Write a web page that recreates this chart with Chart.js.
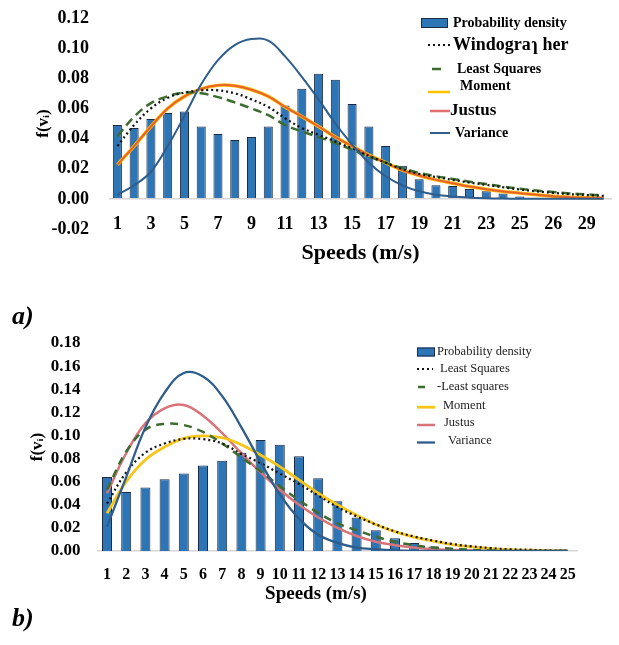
<!DOCTYPE html>
<html><head><meta charset="utf-8">
<script src="https://cdn.jsdelivr.net/npm/chart.js@4/dist/chart.umd.min.js"></script>
<style>
html,body{margin:0;padding:0;background:#fff;}
body{width:619px;height:645px;position:relative;overflow:hidden;}
canvas{position:absolute;left:0;}
#ca{top:0;}
#cb{top:325px;}
.tag{position:absolute;left:12px;font:bold italic 26px 'Liberation Serif',serif;line-height:1;color:#000;}
</style></head><body>
<canvas id="ca" width="619" height="272"></canvas>
<canvas id="cb" width="619" height="290"></canvas>
<div class="tag" style="top:303px">a)</div>
<div class="tag" style="top:605px">b)</div>
<script>
// ---------- Chart a data ----------
const catsA = ['1','2','3','4','5','6','7','8','9','10','11','12','13','14','15','16','17','18','19','20','21','22','23','24','25','25','26','28','29','30'];
const densA = [0.049,0.047,0.053,0.057,0.058,0.048,0.043,0.039,0.041,0.048,0.062,0.073,0.083,0.079,0.063,0.048,0.035,0.022,0.013,0.009,0.0085,0.0065,0.005,0.0035,0.0015,0.0005,0,0,0,0];
const windA = [0.035,0.049,0.060,0.067,0.0705,0.072,0.072,0.070,0.066,0.061,0.0535,0.047,0.0425,0.038,0.0335,0.0285,0.024,0.0197,0.0166,0.0145,0.0126,0.0108,0.0093,0.0077,0.0062,0.0050,0.0040,0.0031,0.0025,0.0020];
const lsqA  = [0.0415,0.0545,0.0635,0.068,0.0705,0.070,0.0675,0.064,0.060,0.0555,0.049,0.0447,0.041,0.037,0.0326,0.028,0.024,0.0203,0.0172,0.015,0.0132,0.0114,0.0098,0.0082,0.0067,0.0055,0.0045,0.0036,0.0029,0.0024];
const momA  = [0.0226,0.035,0.048,0.060,0.068,0.073,0.0753,0.075,0.0724,0.068,0.061,0.0547,0.048,0.041,0.035,0.029,0.024,0.019,0.0155,0.0126,0.0104,0.0082,0.0064,0.0049,0.0038,0.0027,0.0017,0.0011,0.0007,0.0005];
const jusA  = [0.0226,0.035,0.048,0.060,0.068,0.073,0.0753,0.075,0.0724,0.068,0.061,0.0547,0.048,0.041,0.035,0.029,0.024,0.019,0.0155,0.0126,0.0104,0.0082,0.0064,0.0049,0.0038,0.0027,0.0017,0.0011,0.0007,0.0005];
const varA  = [0.0027,0.009,0.018,0.035,0.055,0.076,0.092,0.102,0.106,0.105,0.0945,0.081,0.066,0.050,0.036,0.024,0.015,0.009,0.005,0.0027,0.0015,0.0008,0.0004,0.0002,0.0001,0,0,0,0,0];
const yTicksA = [-0.02,0,0.02,0.04,0.06,0.08,0.10,0.12];

// ---------- Chart b data ----------
const catsB = ['1','2','3','4','5','6','7','8','9','10','11','12','13','14','15','16','17','18','19','20','21','22','23','24','25'];
const densB = [0.064,0.051,0.055,0.062,0.067,0.074,0.078,0.085,0.096,0.092,0.082,0.063,0.043,0.029,0.018,0.011,0.007,0.004,0.002,0.001,0,0,0,0,0];
const lsqDotB = [0.041,0.068,0.085,0.093,0.097,0.0968,0.093,0.084,0.076,0.067,0.058,0.048,0.038,0.030,0.023,0.017,0.0125,0.009,0.006,0.004,0.0025,0.0015,0.001,0.0005,0.0003];
const lsqDashB = [0.053,0.086,0.105,0.110,0.109,0.103,0.093,0.081,0.069,0.056,0.044,0.033,0.024,0.018,0.0124,0.008,0.005,0.003,0.002,0.001,0.0005,0,0,0,0];
const momB = [0.0326,0.060,0.079,0.090,0.0975,0.0996,0.098,0.092,0.083,0.073,0.0615,0.050,0.040,0.031,0.023,0.0167,0.012,0.0085,0.0055,0.0035,0.002,0.0012,0.0007,0.0004,0.0002];
const jusB = [0.050,0.0846,0.1105,0.1235,0.1264,0.117,0.102,0.0846,0.068,0.053,0.040,0.029,0.020,0.013,0.008,0.005,0.003,0.0015,0.0008,0.0004,0.0002,0,0,0,0];
const varB = [0.021,0.064,0.107,0.137,0.154,0.151,0.134,0.107,0.077,0.049,0.028,0.014,0.007,0.003,0.0015,0.0005,0,0,0,0,0,0,0,0,0];
const yTicksB = [0,0.02,0.04,0.06,0.08,0.10,0.12,0.14,0.16,0.18];

const SERIF = "'Liberation Serif','DejaVu Serif',serif";
Chart.defaults.color = '#000';
Chart.defaults.font.family = SERIF;

const boxLegend = {
  id: 'boxLegend',
  afterDraw(chart, args, opts) {
    const ctx = chart.ctx;
    ctx.save();
    chart.data.datasets.forEach((ds, i) => {
      const it = opts.items[i];
      if (!it) return;
      if (ds.type === 'bar') {
        ctx.fillStyle = ds.backgroundColor;
        ctx.fillRect(it.x0, it.y - it.h / 2, it.x1 - it.x0, it.h);
        ctx.strokeStyle = ds.borderColor; ctx.lineWidth = 1;
        ctx.strokeRect(it.x0 + 0.5, it.y - it.h / 2 + 0.5, it.x1 - it.x0 - 1, it.h - 1);
      } else {
        ctx.strokeStyle = it.color || ds.borderColor;
        ctx.lineWidth = it.lw || ds.borderWidth;
        ctx.setLineDash(ds.borderDash || []);
        ctx.beginPath();
        const ly = it.y + (it.dy || 0);
        ctx.moveTo(it.x0, ly); ctx.lineTo(it.x1, ly); ctx.stroke();
        ctx.setLineDash([]);
      }
      ctx.font = it.font;
      ctx.fillStyle = opts.textColor || '#000';
      ctx.textAlign = 'left'; ctx.textBaseline = 'middle';
      ctx.fillText(ds.label, it.tx, it.y);
    });
    ctx.restore();
  }
};

const lineBase = { type: 'line', pointRadius: 0, fill: false, tension: 0.4 };
const isZero = v => Math.abs(v) < 1e-9;
const noPad = s => { s.paddingTop = 0; s.paddingBottom = 0; };

new Chart(document.getElementById('ca'), {
  data: {
    labels: catsA,
    datasets: [
      { type: 'bar', label: 'Probability density', data: densA, backgroundColor: '#2E75B6', borderColor: '#1B2B45', borderWidth: 1, barPercentage: 0.54, categoryPercentage: 1, order: 10 },
      { ...lineBase, label: 'Windogra\u027F her', data: windA, borderColor: '#111111', borderWidth: 2.2, borderDash: [2, 3], order: 1 },
      { ...lineBase, label: 'Least Squares', data: lsqA, borderColor: '#3E6B2F', borderWidth: 2.5, borderDash: [9, 5], order: 2 },
      { ...lineBase, label: 'Moment', data: momA, borderColor: '#FFC000', borderWidth: 3.5, order: 4 },
      { ...lineBase, label: 'Justus', data: jusA, borderColor: '#E8602C', borderWidth: 2, order: 3 },
      { ...lineBase, label: 'Variance', data: varA, borderColor: '#2E5D8C', borderWidth: 2, order: 0 }
    ]
  },
  options: {
    responsive: false, animation: false,
    layout: { padding: { top: 18, right: 7, left: 0, bottom: 0 } },
    plugins: {
      legend: { display: false }, tooltip: { enabled: false },
      boxLegend: {
        items: [
          { x0: 421, x1: 448, y: 23, h: 10, tx: 453, font: 'bold 14px ' + SERIF },
          { x0: 428, x1: 450, y: 45, tx: 453, font: 'bold 18px ' + SERIF },
          { x0: 432, x1: 441, y: 69, tx: 457, font: 'bold 14px ' + SERIF },
          { x0: 428, x1: 450, y: 86, dy: 6, tx: 460, lw: 2.5, font: 'bold 14px ' + SERIF },
          { x0: 430, x1: 450, y: 111, tx: 450, color: '#E07070', lw: 2.5, font: 'bold 17px ' + SERIF },
          { x0: 430, x1: 450, y: 133, tx: 455, font: 'bold 14px ' + SERIF }
        ]
      }
    },
    scales: {
      x: {
        position: { y: 0 },
        grid: { display: false, drawTicks: false }, border: { display: false },
        ticks: { autoSkip: false, maxRotation: 0, padding: 15, font: { size: 18, weight: 'bold' },
          callback(v, i) { return i % 2 === 0 ? this.getLabelForValue(v) : ''; } },
        afterFit(s) { s.height = 0; }
      },
      xt: {
        type: 'category', position: 'bottom',
        grid: { display: false, drawTicks: false }, border: { display: false },
        ticks: { display: false },
        title: { display: true, text: 'Speeds (m/s)', font: { size: 22, weight: 'bold' }, padding: { top: 0, bottom: 5 } },
        afterFit(s) { s.height = 43; }
      },
      y: {
        min: yTicksA[0], max: yTicksA[yTicksA.length - 1],
        afterBuildTicks(s) { s.ticks = yTicksA.map(v => ({ value: v })); },
        ticks: { autoSkip: false, padding: 20, font: { size: 18, weight: 'bold' }, callback: v => v.toFixed(2) },
        grid: { drawTicks: false, lineWidth: 1.5, color: c => (c.tick && isZero(c.tick.value)) ? '#d6d6d6' : 'rgba(0,0,0,0)' },
        border: { display: false },
        title: { display: true, text: 'f(v\u1D62)', font: { size: 17, weight: 'bold' }, padding: { top: 33, bottom: 0 } },
        afterFit(s) { s.width = 109; noPad(s); }
      }
    }
  },
  plugins: [boxLegend]
});

new Chart(document.getElementById('cb'), {
  data: {
    labels: catsB,
    datasets: [
      { type: 'bar', label: 'Probability density', data: densB, backgroundColor: '#2E75B6', borderColor: '#1B2B45', borderWidth: 1, barPercentage: 0.52, categoryPercentage: 1, order: 10 },
      { ...lineBase, label: 'Least Squares', data: lsqDotB, borderColor: '#111111', borderWidth: 2.2, borderDash: [2, 3], order: 1 },
      { ...lineBase, label: '-Least squares', data: lsqDashB, borderColor: '#3E6B2F', borderWidth: 2.5, borderDash: [8, 6], order: 2 },
      { ...lineBase, label: 'Moment', data: momB, borderColor: '#F5C518', borderWidth: 2.8, order: 3 },
      { ...lineBase, label: 'Justus', data: jusB, borderColor: '#D9737A', borderWidth: 2.5, order: 4 },
      { ...lineBase, label: 'Variance', data: varB, borderColor: '#2E5D8C', borderWidth: 2.3, order: 0 }
    ]
  },
  options: {
    responsive: false, animation: false,
    layout: { padding: { top: 18, right: 0, left: 13, bottom: 0 } },
    plugins: {
      legend: { display: false }, tooltip: { enabled: false },
      title: { display: true, position: 'bottom', text: 'Speeds (m/s)', color: '#000',
        font: { family: SERIF, size: 19, weight: 'bold', lineHeight: 1.2 }, padding: { top: 0, bottom: 10 } },
      boxLegend: {
        textColor: '#222',
        items: [
          { x0: 417, x1: 435, y: 27, h: 9, tx: 437, font: '12.5px ' + SERIF },
          { x0: 417, x1: 433, y: 44, tx: 440, font: '12.5px ' + SERIF },
          { x0: 418, x1: 425, y: 62, tx: 437, font: '12.5px ' + SERIF },
          { x0: 417, x1: 435, y: 80.7, dy: 1.5, tx: 443, font: '12.5px ' + SERIF },
          { x0: 417, x1: 435, y: 98, dy: 2, tx: 444, font: '12.5px ' + SERIF },
          { x0: 417, x1: 435, y: 116, dy: 1.5, tx: 448, font: '12.5px ' + SERIF }
        ]
      }
    },
    scales: {
      x: {
        grid: { display: false, drawTicks: false }, border: { display: true, color: '#d6d6d6', width: 1.5 },
        ticks: { autoSkip: false, maxRotation: 0, padding: 14.4, font: { size: 16, weight: 'bold' } },
        afterFit(s) { s.height = 31.2; }
      },
      y: {
        min: yTicksB[0], max: yTicksB[yTicksB.length - 1],
        afterBuildTicks(s) { s.ticks = yTicksB.map(v => ({ value: v })); },
        ticks: { autoSkip: false, padding: 17, font: { size: 17, weight: 'bold' }, callback: v => v.toFixed(2) },
        grid: { display: false, drawTicks: false },
        border: { display: false },
        title: { display: true, text: 'f(v\u1D62)', font: { size: 17, weight: 'bold' }, padding: { top: 14, bottom: 0 } },
        afterFit(s) { s.width = 84.4; noPad(s); }
      },
      yr: {
        type: 'linear', position: 'right', display: true,
        grid: { display: false, drawTicks: false }, border: { display: false },
        ticks: { display: false },
        afterFit(s) { s.width = 41.6; noPad(s); }
      }
    }
  },
  plugins: [boxLegend]
});
</script>
</body></html>
